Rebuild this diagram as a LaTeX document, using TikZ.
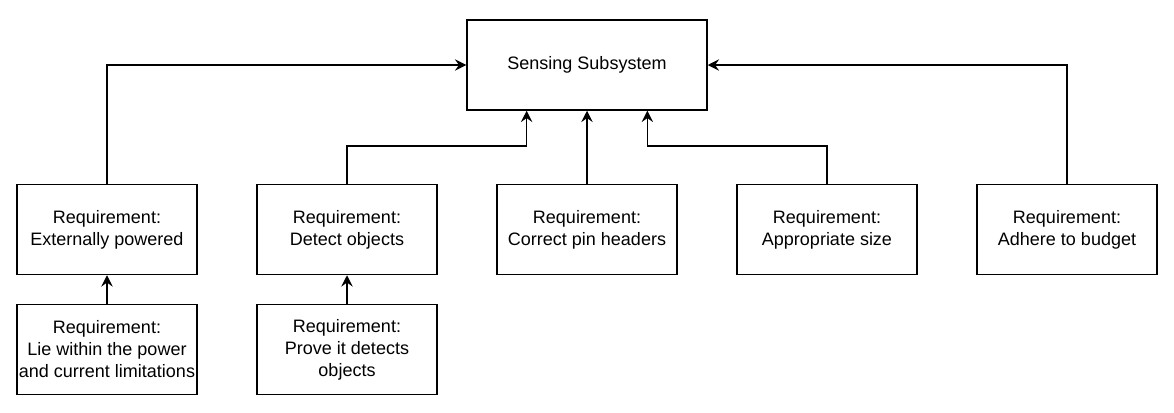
\documentclass[tikz,border=0pt]{standalone}
\usepackage{fontspec}
\setmainfont{Liberation Sans}
\usetikzlibrary{positioning,calc,arrows.meta}
\tikzset{
  subbox/.style ={rectangle, draw=black, line width=1.1pt, align=center, inner sep=0pt, minimum width=180pt, minimum height=67.5pt, font=\fontsize{13.5}{16.5}\selectfont},
  reqbox/.style ={rectangle, draw=black, line width=1.1pt, align=center, inner sep=0pt, minimum width=135pt, minimum height=67.5pt, font=\fontsize{13.5}{16.5}\selectfont},
  flow/.style   ={-{Stealth[length=8.5pt, width=8.5pt, inset=3pt]}, draw=black, line width=1.1pt},
}
\begin{document}
\begin{tikzpicture}[x=0.75pt, y=-0.75pt]
\useasboundingbox (0,0) rectangle (1174,412);
% --- top: subsystem ---
\node[subbox] (sense) at (587,65) {Sensing Subsystem};
% --- row 1: requirements ---
\node[reqbox] (power)  at (107,229.5)  {Requirement:\\Externally powered};
\node[reqbox] (detect) at (347,229.5)  {Requirement:\\Detect objects};
\node[reqbox] (pins)   at (587,229.5)  {Requirement:\\Correct pin headers};
\node[reqbox] (size)   at (827,229.5)  {Requirement:\\Appropriate size};
\node[reqbox] (budget) at (1067,229.5) {Requirement:\\Adhere to budget};
% --- row 2: sub-requirements ---
\node[reqbox] (limits) at (107,349.5) {Requirement:\\Lie within the power\\and current limitations};
\node[reqbox] (prove)  at (347,349.5) {Requirement:\\Prove it detects\\objects};
% --- arrows ---
\draw[flow] (power.north) |- (sense.west);
\draw[flow] (budget.north) |- (sense.east);
\draw[flow] (pins.north) -- (sense.south);
\draw[flow] (detect.north) -- ++(0,-38) -| ($(sense.south west)!0.25!(sense.south east)$);
\draw[flow] (size.north) -- ++(0,-38) -| ($(sense.south west)!0.75!(sense.south east)$);
\draw[flow] (limits) -- (power);
\draw[flow] (prove) -- (detect);
\end{tikzpicture}
\end{document}
